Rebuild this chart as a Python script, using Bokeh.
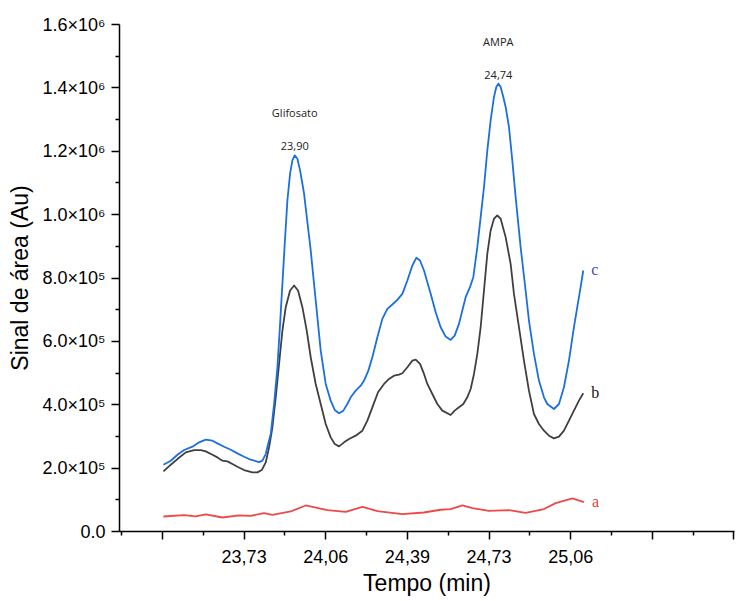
import numpy as np
from bokeh.plotting import figure
from bokeh.models import FixedTicker, Range1d
from bokeh.core.properties import value
from bokeh.embed import file_html
from bokeh.resources import INLINE

# ---------------- data ----------------
time_a = [23.397, 23.482, 23.529, 23.570, 23.638, 23.706, 23.754, 23.808, 23.842,
          23.917, 23.978, 24.067, 24.142, 24.210, 24.271, 24.373, 24.461, 24.529,
          24.570, 24.618, 24.659, 24.726, 24.808, 24.876, 24.951, 24.999, 25.067, 25.114]
signal_a = [47400, 51800, 47400, 53700, 44200, 50600, 49600, 58100, 52800,
            63200, 82100, 67600, 62200, 78000, 64500, 55000, 60000, 68600,
            70800, 82100, 73900, 65400, 67600, 59100, 70800, 89700, 104300, 92900]

time_b = [23.3973, 23.4272, 23.4544, 23.4885, 23.5225, 23.5497, 23.5701, 23.5973, 23.6177,
          23.6381, 23.6585, 23.6789, 23.6993, 23.7265, 23.7606, 23.7810, 23.7986, 23.8150,
          23.8286, 23.8422, 23.8558, 23.8694, 23.8830, 23.8966, 23.9143, 23.9306, 23.9469,
          23.9646, 23.9823, 23.9986, 24.0190, 24.0394, 24.0598, 24.0802, 24.0966, 24.1142,
          24.1347, 24.1551, 24.1823, 24.2095, 24.2299, 24.2503, 24.2734, 24.2979, 24.3183,
          24.3387, 24.3591, 24.3728, 24.3932, 24.4136, 24.4272, 24.4449, 24.4612, 24.4748,
          24.4952, 24.5156, 24.5360, 24.5700, 24.5863, 24.6040, 24.6217, 24.6380, 24.6516,
          24.6653, 24.6789, 24.6925, 24.7061, 24.7197, 24.7333, 24.7469, 24.7605, 24.7741,
          24.7945, 24.8149, 24.8285, 24.8489, 24.8693, 24.8897, 24.9101, 24.9305, 24.9510,
          24.9714, 24.9918, 25.0122, 25.0326, 25.0530, 25.0734, 25.0938, 25.1115]
signal_b = [189700, 210800, 228600, 249700, 257100, 257100, 252900, 242300, 233900,
            223400, 221300, 212900, 204400, 193900, 186500, 186500, 193900, 218100,
            265500, 329000, 423500, 528800, 634100, 707900, 760500, 776300, 760500,
            707900, 634100, 549900, 465600, 402400, 339200, 297100, 276000, 268700,
            281300, 291800, 302400, 318200, 349800, 391900, 439300, 465600, 481400,
            491900, 495100, 499300, 518300, 539300, 542500, 528800, 497200, 465600,
            434000, 402400, 381400, 367700, 381400, 391900, 402400, 423500, 449800,
            497200, 560400, 644700, 760500, 876400, 950100, 987000, 997500, 987000,
            929000, 844800, 749800, 644700, 539300, 444500, 370800, 339200, 318200,
            302400, 293900, 299200, 318200, 349800, 381400, 413000, 436100]

time_c = [23.3973, 23.4272, 23.4544, 23.4817, 23.5157, 23.5429, 23.5701, 23.5973, 23.6177,
          23.6449, 23.6721, 23.6993, 23.7265, 23.7538, 23.7878, 23.8014, 23.8150, 23.8245,
          23.8354, 23.8490, 23.8626, 23.8735, 23.8830, 23.8925, 23.9034, 23.9143, 23.9238,
          23.9334, 23.9442, 23.9551, 23.9646, 23.9714, 23.9850, 23.9986, 24.0190, 24.0394,
          24.0598, 24.0802, 24.0966, 24.1142, 24.1319, 24.1483, 24.1619, 24.1823, 24.2027,
          24.2163, 24.2340, 24.2503, 24.2707, 24.2911, 24.3115, 24.3319, 24.3523, 24.3728,
          24.3932, 24.4136, 24.4299, 24.4449, 24.4612, 24.4748, 24.4884, 24.5088, 24.5292,
          24.5496, 24.5700, 24.5863, 24.6040, 24.6176, 24.6312, 24.6489, 24.6625, 24.6789,
          24.6925, 24.7061, 24.7197, 24.7333, 24.7469, 24.7564, 24.7646, 24.7741, 24.7850,
          24.7945, 24.8081, 24.8217, 24.8353, 24.8557, 24.8761, 24.8897, 24.9101, 24.9305,
          24.9510, 24.9646, 24.9918, 25.0122, 25.0326, 25.0530, 25.0734, 25.0870, 25.1006,
          25.1115]
signal_c = [210700, 223400, 242300, 257100, 267600, 281300, 289700, 286600, 278100,
            267600, 258100, 246500, 236000, 226500, 219200, 223400, 244400, 276000,
            307600, 402400, 518300, 655200, 781600, 907900, 1044900, 1129100, 1171300,
            1187100, 1176500, 1139700, 1097500, 1066000, 976400, 886900, 728900, 570900,
            465600, 413000, 383500, 373000, 381400, 402400, 423500, 444500, 460300,
            476200, 507700, 549900, 613100, 671000, 702600, 716300, 731100, 750000,
            792100, 839500, 863700, 855300, 823700, 786900, 750000, 692100, 644700,
            615200, 604600, 618300, 655200, 697300, 739500, 771100, 802600, 897400,
            992200, 1087000, 1202900, 1297600, 1371400, 1402900, 1413500, 1402900, 1371400,
            1339800, 1276600, 1171300, 1055400, 897400, 760500, 665700, 560400, 476200,
            423500, 402400, 386600, 402400, 455100, 539300, 644700, 707900, 771000,
            823700]

series_names = ["a", "b", "c"]
series_colors = ["#F04848", "#404040", "#1C6FE0"]
name_colors = ["#E8383D", "#111111", "#4848C8"]

x_major = [23.3933, 23.7267, 24.06, 24.3933, 24.7267, 25.06, 25.3933, 25.7267]
x_major_labels = ["", "23,73", "24,06", "24,39", "24,73", "25,06", "", ""]
x_minor = [23.2267, 23.56, 23.8933, 24.2267, 24.56, 24.8933, 25.2267, 25.56]

y_major = [0, 200000, 400000, 600000, 800000, 1000000, 1200000, 1400000, 1600000]
y_major_labels = ["0.0", "2.0×10⁵", "4.0×10⁵", "6.0×10⁵", "8.0×10⁵",
                  "1.0×10⁶", "1.2×10⁶", "1.4×10⁶", "1.6×10⁶"]
y_minor = [100000, 300000, 500000, 700000, 900000, 1100000, 1300000, 1500000]

peak_names = ["Glifosato", "AMPA"]
peak_times = ["23,90", "24,74"]
peak_windows = [(23.8, 24.1), (24.6, 24.9)]

# ---------------- figure ----------------
p = figure(width=736, height=600, output_backend="svg", toolbar_location=None,
           x_range=Range1d(23.2178, 25.729), y_range=Range1d(0, 1600000),
           min_border_left=119, min_border_right=2, min_border_top=24,
           min_border_bottom=69)
p.outline_line_color = None
p.xgrid.visible = False
p.ygrid.visible = False
p.background_fill_color = "white"

times = [time_a, time_b, time_c]
signals = [signal_a, signal_b, signal_c]
for t, s, col in zip(times, signals, series_colors):
    p.line(t, s, line_color=col, line_width=1.8, line_join="round")

# series names at end of curves
p.text(x=[t[-1] for t in times], y=[s[-1] for s in signals], text=series_names,
       text_color=name_colors, text_font=value("Liberation Serif"),
       text_font_size="16px", text_baseline="middle", text_align="left",
       x_offset=8, y_offset=-1)

# peak annotations above series c
tc = np.array(time_c)
sc = np.array(signal_c)
px, py = [], []
for lo, hi in peak_windows:
    m = (tc >= lo) & (tc <= hi)
    i = np.argmax(np.where(m, sc, -1))
    px.append(tc[i]); py.append(sc[i])
p.text(x=px, y=py, text=peak_times, text_font=value("Open Sans"), text_font_size="11px",
       text_color="#222222", text_align="center", text_baseline="bottom", y_offset=-5)
p.text(x=px, y=py, text=peak_names, text_font=value("Open Sans"), text_font_size="11px",
       text_color="#222222", text_align="center", text_baseline="bottom", y_offset=-35)

# axes
p.xaxis.ticker = FixedTicker(ticks=x_major, minor_ticks=x_minor)
p.xaxis.major_label_overrides = {v: l for v, l in zip(x_major, x_major_labels)}
p.yaxis.ticker = FixedTicker(ticks=y_major, minor_ticks=y_minor)
p.yaxis.major_label_overrides = {v: l for v, l in zip(y_major, y_major_labels)}

for ax in [p.xaxis[0], p.yaxis[0]]:
    ax.axis_line_color = "black"
    ax.axis_line_width = 1.5
    ax.major_tick_line_color = "black"
    ax.major_tick_line_width = 1.5
    ax.minor_tick_line_color = "black"
    ax.minor_tick_line_width = 1.5
    ax.major_tick_out = 8
    ax.major_tick_in = 0
    ax.minor_tick_out = 4
    ax.minor_tick_in = 0
    ax.major_label_text_font = "Liberation Sans"
    ax.major_label_text_font_size = "18px"
    ax.major_label_text_color = "black"
    ax.axis_label_text_font = "Liberation Sans"
    ax.axis_label_text_font_size = "23px"
    ax.axis_label_text_font_style = "normal"
    ax.axis_label_text_color = "black"

p.xaxis.axis_label = "Tempo (min)"
p.yaxis.axis_label = "Sinal de área (Au)"
p.xaxis.major_label_standoff = 10
p.xaxis.axis_label_standoff = 4
p.yaxis.major_label_standoff = 6
p.yaxis.axis_label_standoff = 6

open("out.html", "w").write(file_html(p, INLINE))
